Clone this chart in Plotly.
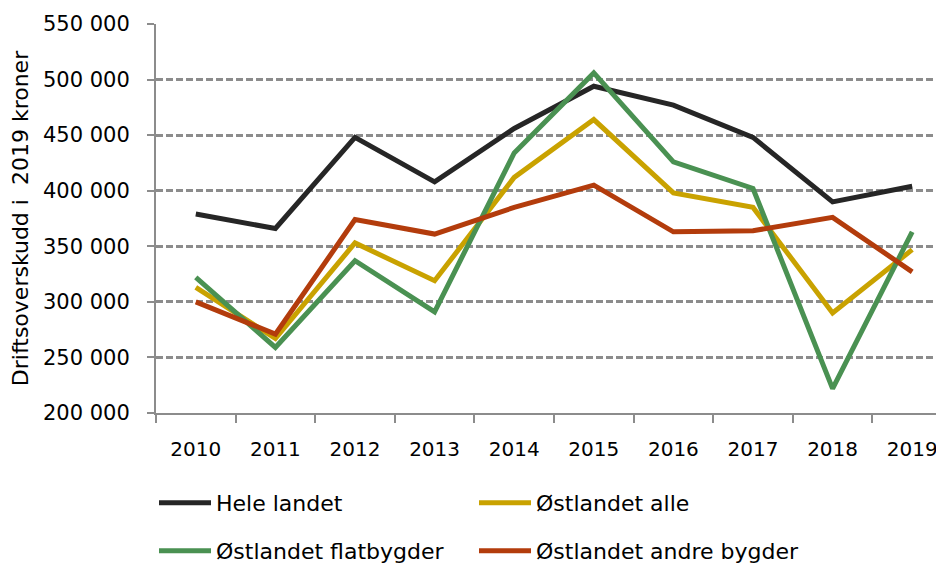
import plotly.graph_objects as go

# Driftsoverskudd per år, i 2019-kroner
years = ["2010", "2011", "2012", "2013", "2014", "2015", "2016", "2017", "2018", "2019"]
hele_landet = [379000, 366000, 448000, 408000, 456000, 494000, 477000, 448000, 390000, 404000]
ostlandet_alle = [313000, 267000, 353000, 319000, 412000, 464000, 398000, 385000, 290000, 347000]
ostlandet_flat = [322000, 259000, 337000, 291000, 434000, 506000, 426000, 402000, 222000, 363000]
ostlandet_andre = [300000, 271000, 374000, 361000, 385000, 405000, 363000, 364000, 376000, 327000]

font = "'DejaVu Sans', sans-serif"
grey = "#8c8c8c"

fig = go.Figure()

# one legend per entry, laid out as a 2x2 grid below the plot
series = [
    ("Hele landet", hele_landet, "#262626", "legend"),
    ("Østlandet alle", ostlandet_alle, "#c9a200", "legend2"),
    ("Østlandet flatbygder", ostlandet_flat, "#4a9152", "legend3"),
    ("Østlandet andre bygder", ostlandet_andre, "#b33c0c", "legend4"),
]
for name, vals, col, lg in series:
    fig.add_trace(go.Scatter(x=years, y=vals, name=name, mode="lines", showlegend=True,
                             line=dict(color=col, width=5), legend=lg))

legend_style = dict(orientation="h", xref="container", yref="container",
                    xanchor="left", yanchor="middle", itemwidth=52, visible=True,
                    font=dict(family=font, size=22, color="#000"),
                    bgcolor="rgba(0,0,0,0)")

# the page has an 8px body margin, so positions are shifted up/left by 8
col1, col2 = 146 / 944, 466 / 944
row1, row2 = 1 - 495 / 565, 1 - 543 / 565

fig.update_layout(
    width=944, height=565,
    showlegend=True,
    margin=dict(l=148, r=0, t=16, b=160),
    plot_bgcolor="white", paper_bgcolor="white",
    separators=", ",
    font=dict(family=font, size=20, color="#000"),
    legend=dict(**legend_style, x=col1, y=row1),
    legend2=dict(**legend_style, x=col2, y=row1),
    legend3=dict(**legend_style, x=col1, y=row2),
    legend4=dict(**legend_style, x=col2, y=row2),
    xaxis=dict(
        type="category", range=[-0.5, 9.5],
        tickson="boundaries", ticks="outside", ticklen=8, tickwidth=2, tickcolor=grey,
        showline=True, linecolor=grey, linewidth=2, showgrid=False,
        ticklabelstandoff=17,
        tickfont=dict(family=font, size=20, color="#000"),
    ),
    yaxis=dict(
        range=[200000, 550000], dtick=50000, tickformat=",d",
        ticks="outside", ticklen=7, tickwidth=2, tickcolor=grey,
        showline=True, linecolor=grey, linewidth=2,
        showgrid=True, gridcolor=grey, gridwidth=2.5, griddash="7px,3px",
        zeroline=False, ticklabelstandoff=13,
        tickfont=dict(family=font, size=21, color="#000"),
        title=dict(text="Driftsoverskudd i  2019 kroner",
                   font=dict(family=font, size=22, color="#000"), standoff=8),
    ),
)

fig.write_html("out.html")
